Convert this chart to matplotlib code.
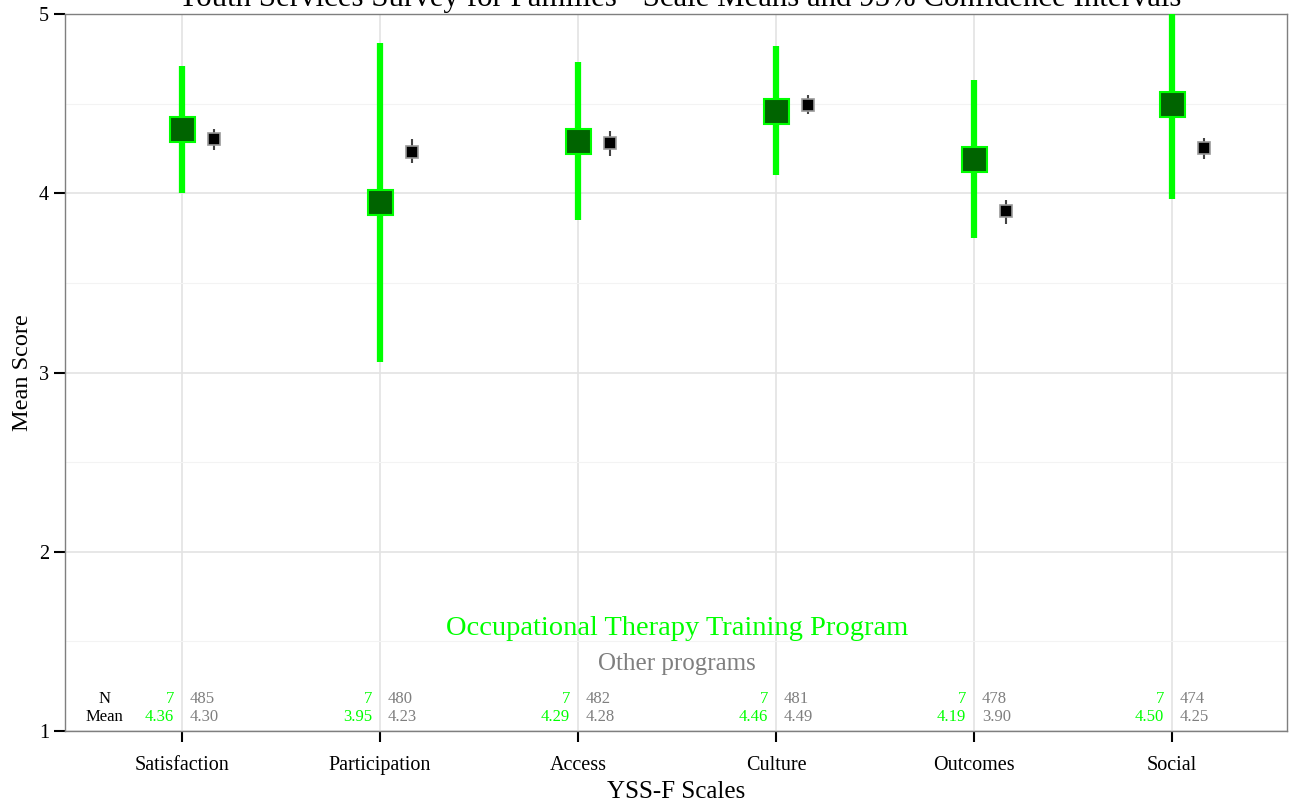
import numpy as np
import matplotlib.pyplot as plt

plt.rcParams['font.family'] = ['Liberation Serif', 'DejaVu Serif']

scales = ['Satisfaction', 'Participation', 'Access', 'Culture', 'Outcomes', 'Social']

# program of interest
prog_n = [7, 7, 7, 7, 7, 7]
prog_mean = [4.36, 3.95, 4.29, 4.46, 4.19, 4.50]
prog_lo = [4.00, 3.06, 3.85, 4.10, 3.75, 3.97]
prog_hi = [4.71, 4.84, 4.73, 4.82, 4.63, 5.03]

# other programs
other_n = [485, 480, 482, 481, 478, 474]
other_mean = [4.30, 4.23, 4.28, 4.49, 3.90, 4.25]
other_lo = [4.24, 4.17, 4.21, 4.44, 3.83, 4.19]
other_hi = [4.36, 4.30, 4.35, 4.55, 3.96, 4.31]

green = '#00ff00'
grey = '#7f7f7f'

fig = plt.figure(figsize=(12.91, 8.02), dpi=100)
ax = fig.add_axes([65 / 1291, 1 - 731 / 802, 1222 / 1291, 717 / 802])

x = np.arange(1, len(scales) + 1)
off = 0.16

# confidence intervals
ax.vlines(x, prog_lo, prog_hi, color=green, lw=4.5, zorder=3)
ax.vlines(x + off, other_lo, other_hi, color='#444444', lw=1.5, zorder=3)

# means
ax.plot(x, prog_mean, ls='none', marker='s', ms=18, mfc='#006400', mec=green, mew=1.5, zorder=4)
ax.plot(x + off, other_mean, ls='none', marker='s', ms=8, mfc='black', mec='#999999', mew=1.2, zorder=4)

# N / mean table at the bottom
fs = 12
ax.text(0.61, 1.18, 'N', ha='center', va='center', fontsize=fs)
ax.text(0.61, 1.08, 'Mean', ha='center', va='center', fontsize=fs)
for i in range(len(scales)):
  ax.text(x[i] - 0.04, 1.18, str(prog_n[i]), color=green, ha='right', va='center', fontsize=fs)
  ax.text(x[i] - 0.04, 1.08, '%.2f' % prog_mean[i], color=green, ha='right', va='center', fontsize=fs)
  ax.text(x[i] + 0.04, 1.18, str(other_n[i]), color=grey, ha='left', va='center', fontsize=fs)
  ax.text(x[i] + 0.04, 1.08, '%.2f' % other_mean[i], color=grey, ha='left', va='center', fontsize=fs)

ax.text(3.5, 1.57, 'Occupational Therapy Training Program', color=green, ha='center', va='center', fontsize=20.5)
ax.text(3.5, 1.375, 'Other programs', color=grey, ha='center', va='center', fontsize=18)

ax.set_xlim(0.41, 6.58)
ax.set_ylim(1, 5)
ax.set_xticks(x)
ax.set_xticklabels(scales)
ax.set_yticks([1, 2, 3, 4, 5])
ax.set_yticks([1.5, 2.5, 3.5, 4.5], minor=True)
ax.tick_params(axis='both', which='major', direction='out', length=8, width=1.5, color='black', labelsize=14.5)
ax.tick_params(axis='x', which='major', pad=10)
ax.tick_params(axis='y', which='minor', length=0)

ax.grid(True, which='major', color='#e3e3e3', lw=1.2, zorder=0)
ax.grid(True, which='minor', axis='y', color='#f3f3f3', lw=0.8, zorder=0)
ax.set_axisbelow(True)
for s in ax.spines.values():
  s.set_color('#7f7f7f')
  s.set_linewidth(1)

ax.set_xlabel('YSS-F Scales', fontsize=18, labelpad=4)
ax.set_ylabel('Mean Score', fontsize=17.5, labelpad=4)

# title sits over the panel and is clipped at the top edge, as in the original
fig.text(679 / 1291, 1 - 6 / 802, 'Youth Services Survey for Families - Scale Means and 95% Confidence Intervals',
         ha='center', va='baseline', fontsize=22.2)

fig.savefig('out.png', dpi=100)
